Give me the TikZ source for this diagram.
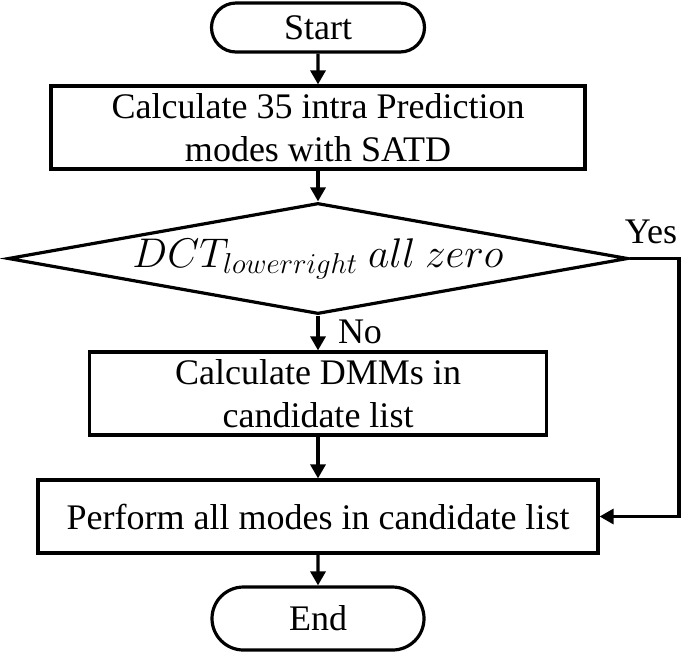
\documentclass[tikz,border=0pt]{standalone}
\usepackage{fontspec}
\setmainfont{Liberation Serif}
\usetikzlibrary{shapes.geometric,shapes.misc,arrows.meta}
\begin{document}
\begin{tikzpicture}
        [x=0.5pt, y=-0.5pt,
        every node/.style={font=\fontsize{18}{21.5}\selectfont},
        terminal/.style={rounded rectangle, draw=black, line width=1.6pt, inner sep=0pt},
        process/.style={rectangle, draw=black, line width=1.6pt, align=center, inner sep=0pt},
        decision/.style={diamond, aspect=5.6, draw=black, line width=1.6pt, inner sep=0pt,
          font=\fontsize{19.5}{23}\selectfont},
        flow/.style={line width=1.6pt, -{Triangle[length=7pt,width=7.5pt]}},
        ]
        \useasboundingbox (0,0) rectangle (685,655);
        \node[terminal, minimum width=106.5pt, minimum height=24.5pt] (start) at (318,27.5) {Start};
        \node[process, minimum width=267pt, minimum height=41.5pt] (satd) at (318,127.5)
          {Calculate 35 intra Prediction\\modes with SATD};
        \node[decision, minimum width=310pt, minimum height=55.5pt] (zero) at (318,258.5)
          {$DCT_{lowerright}\ all\ zero$};
        \node[process, minimum width=228.5pt, minimum height=41.5pt] (dmm) at (318,393.5)
          {Calculate DMMs in\\candidate list};
        \node[process, minimum width=280pt, minimum height=36.5pt] (perform) at (318,516.5)
          {Perform all modes in candidate list};
        \node[terminal, minimum width=106pt, minimum height=31.5pt] (stop) at (318,618.5) {End};
        \coordinate (turn) at (679,258.5);

        \node (yes) at (651,232) {Yes};
        \node (no) at (360,332) {No};

        \draw[flow] (start) -- (satd);
        \draw[flow] (satd) -- (zero);
        \draw[flow] (zero) -- (dmm);
        \draw[flow] (dmm) -- (perform);
        \draw[flow] (perform) -- (stop);
        \draw[flow] (zero.east) -- (turn) |- (perform.east);
\end{tikzpicture}
\end{document}
